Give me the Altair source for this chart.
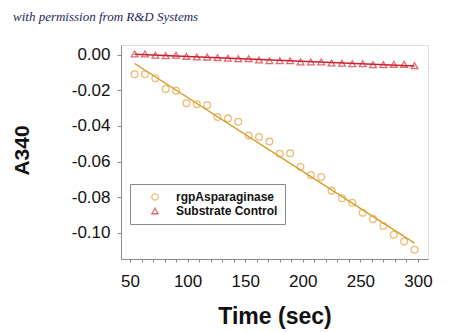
import altair as alt
import pandas as pd

times = [54, 63, 72, 81, 90, 99, 108, 117, 126, 135, 144, 153, 162, 171,
         180, 189, 198, 207, 216, 225, 234, 243, 252, 261, 270, 279, 288, 297]

rgp_values = [-0.0109, -0.0109, -0.0131, -0.0192, -0.0201, -0.0272, -0.0278,
              -0.0283, -0.0349, -0.0357, -0.0376, -0.0453, -0.0462, -0.0488,
              -0.0556, -0.0554, -0.0631, -0.0676, -0.0687, -0.0764, -0.0807,
              -0.0832, -0.0888, -0.0924, -0.0963, -0.1012, -0.1050, -0.1097]

control_values = [0.0006, 0.0006, -0.0002, -0.0004, -0.0002, -0.0008, -0.0011,
                  -0.0012, -0.0015, -0.0019, -0.0021, -0.0021, -0.0028, -0.0032,
                  -0.0032, -0.0032, -0.0039, -0.0039, -0.0039, -0.0045, -0.0047,
                  -0.0049, -0.0049, -0.0055, -0.0055, -0.0053, -0.0053, -0.0060]

series_names = ["rgpAsparaginase", "Substrate Control"]
x_tick_values = list(range(50, 301, 10))
y_tick_values = [0.0, -0.02, -0.04, -0.06, -0.08, -0.10]

df = pd.DataFrame({
    "time": times * 2,
    "a340": rgp_values + control_values,
    "series": [series_names[0]] * len(times) + [series_names[1]] * len(times),
})

AX = "#8a8a8a"
FONT = "Liberation Sans"

x_enc = alt.X(
    "time:Q",
    scale=alt.Scale(domain=[42.2, 308.7], nice=False, zero=False),
    axis=alt.Axis(
        values=x_tick_values,
        labelExpr="datum.value % 50 == 0 ? datum.label : ''",
        format="d",
        grid=False,
        domainColor=AX, tickColor=AX, tickSize=3,
        labelFont=FONT, labelFontSize=17, labelColor="#111111",
        labelPadding=11, labelFlush=False, labelOverlap=False,
        title="Time (sec)", titleFont=FONT, titleFontSize=23,
        titleFontWeight="bold", titleColor="#111111",
        titleBaseline="alphabetic", titleY=64,
    ),
)

y_enc = alt.Y(
    "a340:Q",
    scale=alt.Scale(domain=[-0.1149, 0.0056], nice=False, zero=False),
    axis=alt.Axis(
        values=y_tick_values,
        labelExpr="replace(format(datum.value, '.2f'), '\u2212', '-')",
        grid=False,
        domainColor=AX, tickColor=AX, tickSize=4,
        labelFont=FONT, labelFontSize=17, labelColor="#111111",
        labelPadding=7, labelFlush=False, labelOverlap=False,
        title="A340", titleFont=FONT, titleFontSize=21,
        titleFontWeight="bold", titleColor="#111111",
        titleX=-89, titleY=105, titleAlign="center",
    ),
)

points = alt.Chart(df).mark_point(filled=False, strokeWidth=1.3, size=45).encode(
    x=x_enc,
    y=y_enc,
    color=alt.Color(
        "series:N",
        scale=alt.Scale(domain=series_names, range=["#E6A03A", "#D42A36"]),
        legend=alt.Legend(
            title=None, orient="none", legendX=9, legendY=139,
            strokeColor="#8a8a8a", padding=7, fillColor="white",
            labelFont=FONT, labelFontSize=12, labelFontWeight="bold",
            labelColor="#111111", symbolOffset=12, labelOffset=15,
            symbolSize=40, symbolStrokeWidth=1.3, rowPadding=2,
        ),
    ),
    shape=alt.Shape(
        "series:N",
        scale=alt.Scale(domain=series_names, range=["circle", "triangle-up"]),
        legend=None,
    ),
)

lines = alt.Chart(df).transform_regression(
    "time", "a340", groupby=["series"]
).mark_line(strokeWidth=1.4).encode(
    x=x_enc,
    y=y_enc,
    detail="series:N",
    color=alt.condition(
        "datum.series == 'rgpAsparaginase'",
        alt.value("#D59A25"),
        alt.value("#C8202E"),
    ),
)

chart = alt.layer(lines, points).properties(
    width=307,
    height=214,
    padding={"left": 121, "top": 45, "right": 22, "bottom": 73},
    autosize=alt.AutoSizeParams(type="none"),
    title=alt.TitleParams(
        text="with permission from R&D Systems",
        anchor="start", frame="group", dx=-108, offset=11,
        baseline="alphabetic",
        font="Liberation Serif", fontSize=13, fontStyle="italic",
        fontWeight="normal", color="#1d2757",
    ),
).configure_view(stroke=None).configure(background="white")

chart.save("out.html", embed_options={"renderer": "svg", "actions": False})
